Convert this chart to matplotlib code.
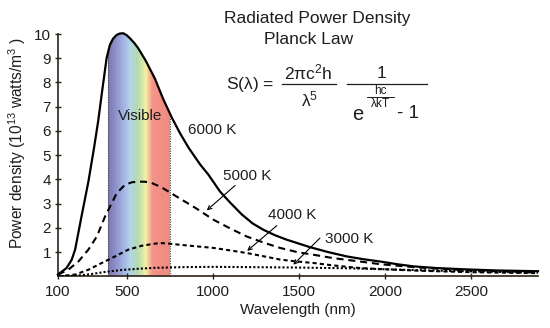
import numpy as np
import matplotlib
matplotlib.use('Agg')
import matplotlib.pyplot as plt
from matplotlib.colors import LinearSegmentedColormap

plt.rcParams['font.family'] = ['Liberation Sans', 'DejaVu Sans']
plt.rcParams['mathtext.fontset'] = 'custom'
plt.rcParams['mathtext.rm'] = 'Liberation Sans'
plt.rcParams['mathtext.it'] = 'Liberation Sans'

# ========== DATA ==========

wl_6000 = [100, 150, 180, 200, 238, 277, 310, 334, 360, 383, 402, 420, 441, 460, 480,
           500, 519, 545, 567, 610, 663, 713, 762, 810, 860, 926, 974, 1042, 1100,
           1169, 1232, 1294, 1360, 1430, 1500, 1566, 1670, 1779, 1880, 1973, 2070,
           2166, 2300, 2457, 2650, 2890]
p_6000 = [0.07, 0.34, 0.68, 1.1, 2.5, 3.9, 5.3, 6.4, 7.8, 9.0, 9.55, 9.8, 9.96, 10.02, 10.03,
          9.95, 9.82, 9.62, 9.41, 8.9, 8.17, 7.3, 6.55, 5.9, 5.3, 4.62, 4.2, 3.5, 3.05,
          2.55, 2.18, 1.92, 1.7, 1.51, 1.35, 1.2, 1.0, 0.82, 0.7, 0.61, 0.5,
          0.41, 0.34, 0.29, 0.24, 0.21]

wl_5000 = [100, 160, 219, 277, 326, 374, 403, 442, 490, 530, 567, 610, 645, 700, 742,
           811, 900, 1005, 1100, 1198, 1300, 1392, 1490, 1585, 1700, 1856, 1972,
           2200, 2457, 2700, 2890]
p_5000 = [0.07, 0.27, 0.61, 1.1, 1.64, 2.47, 2.88, 3.43, 3.78, 3.88, 3.91, 3.9, 3.85, 3.68, 3.5,
          3.2, 2.82, 2.33, 1.98, 1.64, 1.38, 1.17, 1.0, 0.89, 0.75, 0.61, 0.5,
          0.36, 0.26, 0.2, 0.17]

wl_4000 = [100, 199, 277, 355, 432, 509, 587, 665, 700, 742, 811, 900, 1005, 1100, 1198,
           1300, 1392, 1490, 1585, 1700, 1856, 2000, 2200, 2500, 2890]
p_4000 = [0.0, 0.07, 0.27, 0.55, 0.82, 1.1, 1.26, 1.35, 1.37, 1.35, 1.3, 1.24, 1.17, 1.07, 0.96,
          0.82, 0.69, 0.61, 0.55, 0.45, 0.34, 0.29, 0.23, 0.17, 0.13]

wl_3000 = [100, 200, 300, 374, 471, 565, 665, 839, 1000, 1200, 1500, 1800, 2100, 2400, 2890]
p_3000 = [0.0, 0.02, 0.1, 0.18, 0.26, 0.31, 0.35, 0.38, 0.39, 0.38, 0.36, 0.33, 0.27, 0.22, 0.15]

visible_edges = [390, 750]
visible_tops = [9.2, 6.6]

x_ticks = [100, 500, 1000, 1500, 2000, 2500]
y_ticks = [1, 2, 3, 4, 5, 6, 7, 8, 9, 10]

# label text, text anchor (left, centre), arrow tail, arrow head
labels = ["6000 K", "5000 K", "4000 K", "3000 K"]
label_pos = [(856, 6.04), (1061, 4.15), (1323, 2.54), (1653, 1.54)]
arrow_tail = [None, (1130, 3.75), (1372, 2.09), (1623, 1.58)]
arrow_head = [None, (965, 2.72), (1200, 1.05), (1468, 0.48)]

spectrum = ['#7a78b4', '#8a8cc6', '#a3b3e3', '#b3d6e6', '#b5d9b0',
            '#d3e6a8', '#f7f2a6', '#f6c49c', '#f4948a', '#f08a80']
spectrum_pos = [0.0, 0.1, 0.25, 0.36, 0.47, 0.55, 0.61, 0.66, 0.72, 1.0]

# ========== PLOT ==========

fig = plt.figure(figsize=(5.5, 3.28), dpi=100)
ax = fig.add_axes([57.9 / 550, (328 - 276.3) / 328, (538 - 57.9) / 550, (276.3 - 34) / 328])

axis_col = '#2b2218'
txt_col = '#1e1e1e'

# visible band, clipped under the 6000 K curve
cmap = LinearSegmentedColormap.from_list('vis', list(zip(spectrum_pos, spectrum)))
grad = np.linspace(0, 1, 256).reshape(1, -1)
im = ax.imshow(grad, cmap=cmap, extent=[visible_edges[0], visible_edges[1], 0, 10.1],
               aspect='auto', zorder=1, interpolation='bilinear')
under = ax.fill_between(wl_6000, 0, p_6000, facecolor='none', edgecolor='none')
im.set_clip_path(under.get_paths()[0], transform=ax.transData)
ax.vlines(visible_edges, 0, visible_tops, colors='#444444', linestyles=(0, (1, 1.2)),
          linewidth=0.8, zorder=2)

ax.plot(wl_3000, p_3000, color='black', lw=1.5, linestyle=(0, (1, 1)), zorder=3)
ax.plot(wl_4000, p_4000, color='black', lw=1.5, linestyle=(0, (2, 1.5)), zorder=3)
ax.plot(wl_5000, p_5000, color='black', lw=1.5, linestyle=(0, (3.4, 2.3)), zorder=3)
ax.plot(wl_6000, p_6000, color='black', lw=1.6, zorder=4, clip_on=False)

for txt, pos, tail, head in zip(labels, label_pos, arrow_tail, arrow_head):
    ax.text(pos[0], pos[1], txt, ha='left', va='center', fontsize=11, color=txt_col)
    if tail is not None:
        ax.annotate('', xy=head, xytext=tail,
                    arrowprops=dict(arrowstyle='->', color='black', lw=0.8,
                                    shrinkA=0, shrinkB=0, mutation_scale=7))

ax.text(575, 6.6, 'Visible', ha='center', va='center', fontsize=11, color=txt_col, zorder=5)

ax.set_xlim(100, 2890)
ax.set_ylim(0, 10)
ax.set_xticks(x_ticks)
ax.set_yticks(y_ticks)
for side in ['top', 'right']:
    ax.spines[side].set_visible(False)
for side in ['left', 'bottom']:
    ax.spines[side].set_color(axis_col)
    ax.spines[side].set_linewidth(1.2)
ax.tick_params(axis='both', direction='inout', length=4, width=1, color=axis_col,
               labelsize=11, labelcolor=txt_col)
ax.tick_params(axis='x', pad=4)
ax.tick_params(axis='y', pad=3)

ax.set_xlabel('Wavelength (nm)', fontsize=11, color=txt_col, labelpad=3)
ax.set_ylabel(r'Power density (10$^{13}$ watts/m$^3$ )', fontsize=11.2, color=txt_col)
ax.yaxis.set_label_coords(-0.062, 0.55)

# ========== TITLE + FORMULA (overlay in pixel coords) ==========

ov = fig.add_axes([0, 0, 1, 1], facecolor='none')
ov.set_xlim(0, 550)
ov.set_ylim(328, 0)
ov.axis('off')

ov.text(317, 18, 'Radiated Power Density', ha='center', va='center', fontsize=12.5, color=txt_col)
ov.text(309, 40, 'Planck Law', ha='center', va='center', fontsize=12.5, color=txt_col)

ov.text(226, 84, r'S($\lambda$) =', ha='left', va='center', fontsize=12.5, color=txt_col)
ov.text(308, 72, r'$\mathrm{2\pi c^2h}$', ha='center', va='center', fontsize=12.5, color=txt_col)
ov.plot([282, 336], [84, 84], color=txt_col, lw=0.9)
ov.text(310, 99, r'$\mathrm{\lambda^5}$', ha='center', va='center', fontsize=12.5, color=txt_col)

ov.text(381, 73, '1', ha='center', va='center', fontsize=12.5, color=txt_col)
ov.plot([347, 427], [84, 84], color=txt_col, lw=0.9)
ov.text(358, 114, 'e', ha='center', va='center', fontsize=14.5, color=txt_col)
ov.text(380, 91, 'hc', ha='center', va='center', fontsize=8.5, color=txt_col)
ov.plot([367, 394], [97, 97], color=txt_col, lw=0.7)
ov.text(380, 103.5, r'$\mathrm{\lambda kT}$', ha='center', va='center', fontsize=8.5, color=txt_col)
ov.text(397, 113, '- 1', ha='left', va='center', fontsize=13.5, color=txt_col)

plt.savefig('out.png', dpi=100)
plt.close(fig)
